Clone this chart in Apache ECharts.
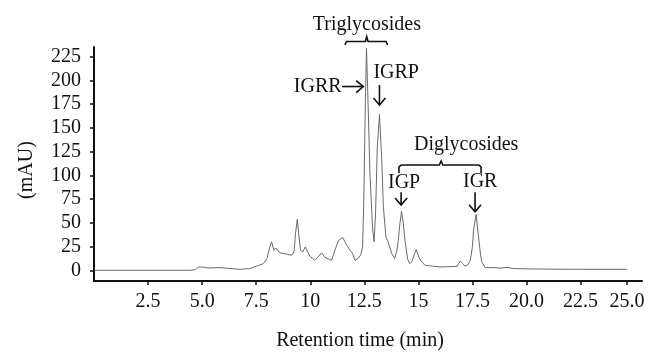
<!DOCTYPE html>
<html>
<head>
<meta charset="utf-8">
<script src="https://cdn.jsdelivr.net/npm/echarts@6/dist/echarts.min.js"></script>
<style>
html, body { margin: 0; padding: 0; background: #fff; }
#chart-container { width: 656px; height: 360px; }
</style>
</head>
<body>
<div id="chart-container"></div>
<script>
// chromatogram (min, mAU)
var retentionTime = [0, 4.5, 4.7, 4.85, 5.1, 5.28, 5.82, 6.28, 6.75, 7.2, 7.5, 7.83, 8.0, 8.13, 8.21, 8.32, 8.41, 8.6, 8.9, 9.14,
    9.25, 9.32, 9.4, 9.48, 9.55, 9.65, 9.77, 9.98, 10.22, 10.53, 10.68, 10.99, 11.14, 11.3, 11.5, 11.69, 11.84, 11.95, 12.07, 12.2,
    12.33, 12.42, 12.47, 12.55, 12.6, 12.68, 12.76, 12.88, 12.95, 13.02, 13.1, 13.2, 13.3, 13.38, 13.5, 13.6, 13.68, 13.77, 13.9, 14.0,
    14.07, 14.15, 14.22, 14.3, 14.38, 14.5, 14.6, 14.7, 14.82, 14.9, 15.0, 15.1, 15.3, 15.7, 16.0, 16.5, 16.8, 16.93, 17.05, 17.16,
    17.3, 17.4, 17.5, 17.55, 17.67, 17.78, 17.87, 17.93, 18.09, 18.5, 18.8, 19.1, 19.4, 20.2, 21.0, 22.5, 24.65];
var absorbance = [0, 0, 0.8, 3.5, 3.2, 2.4, 2.8, 1.8, 1, 1.8, 4.2, 7, 12.3, 24.6, 30, 21, 23.5, 18.3, 17, 15.8,
    19.3, 39, 53.5, 35, 21, 19.3, 24.6, 14.8, 10.5, 18.3, 13.4, 10.5, 21, 31, 34.5, 26.4, 21, 18, 10.5, 12.3,
    16, 24.6, 67, 180, 234, 170, 102, 45, 30, 60, 130, 164, 120, 67, 35, 30, 24, 17.6, 12.3, 20,
    31.6, 50, 62, 50, 31.6, 12, 7, 9, 17, 21.8, 15, 10.5, 5.3, 4.2, 3.5, 3.8, 4.2, 9.8, 7, 4.2,
    6, 10.5, 25, 42, 59, 35, 17, 8.8, 2.8, 2.8, 2.2, 3, 1.8, 1.4, 1.2, 1, 1];

var xTickValues = [2.5, 5, 7.5, 10, 12.5, 15, 17.5, 20, 22.5, 24.65];
var xTickLabels = ['2.5', '5.0', '7.5', '10', '12.5', '15', '17.5', '20.0', '22.5', '25.0'];
var yTickValues = [0, 25, 50, 75, 100, 125, 150, 175, 200, 225];

var serif = '"Liberation Serif", "DejaVu Serif", serif';
var ink = '#111';

var myChart = echarts.init(document.getElementById('chart-container'));

var points = [];
for (var i = 0; i < retentionTime.length; i++) {
    points.push([retentionTime[i], absorbance[i]]);
}

var xLabel = function (v) {
    for (var k = 0; k < xTickValues.length; k++) {
        if (Math.abs(xTickValues[k] - v) < 1e-6) return xTickLabels[k];
    }
    return '';
};

var option = {
    animation: false,
    backgroundColor: '#fff',
    grid: { left: 94, right: 14, top: 47, bottom: 79 },
    xAxis: {
        type: 'value',
        min: 0,
        max: 25.34,
        name: 'Retention time (min)',
        nameLocation: 'middle',
        nameGap: 50,
        nameTextStyle: { color: ink, fontFamily: serif, fontSize: 20, padding: [0, 16, 0, 0] },
        axisLine: { show: true, onZero: false, lineStyle: { color: ink, width: 2 } },
        axisTick: { show: true, length: 4, customValues: xTickValues, lineStyle: { color: ink, width: 1.5 } },
        axisLabel: { customValues: xTickValues, formatter: xLabel, margin: 11, color: ink, fontFamily: serif, fontSize: 20 },
        splitLine: { show: false }
    },
    yAxis: {
        type: 'value',
        min: -11.3,
        max: 235,
        name: '(mAU)',
        nameLocation: 'middle',
        nameRotate: 90,
        nameGap: 57,
        nameTextStyle: { color: ink, fontFamily: serif, fontSize: 20, padding: [0, 12, 0, 0] },
        axisLine: { show: true, lineStyle: { color: ink, width: 2 } },
        axisTick: { show: true, length: 4, customValues: yTickValues, lineStyle: { color: ink, width: 1.5 } },
        axisLabel: { customValues: yTickValues, margin: 13, color: ink, fontFamily: serif, fontSize: 20 },
        splitLine: { show: false }
    },
    series: [{
        type: 'line',
        data: points,
        showSymbol: false,
        lineStyle: { color: '#6a6a6a', width: 1 }
    }]
};
myChart.setOption(option);

// annotations, placed in data units
var px = function (x, y) {
    return myChart.convertToPixel({ gridIndex: 0 }, [x, y]);
};

var textEl = function (str, x, y, align) {
    var p = px(x, y);
    return {
        type: 'text',
        style: {
            text: str, x: p[0], y: p[1], fill: ink,
            font: '20px ' + serif,
            textAlign: align || 'center', textVerticalAlign: 'middle'
        }
    };
};

var lineEl = function (pts) {
    var shape = [];
    for (var k = 0; k < pts.length; k++) shape.push(px(pts[k][0], pts[k][1]));
    return {
        type: 'polyline',
        shape: { points: shape },
        style: { stroke: ink, lineWidth: 1.6, fill: null }
    };
};

// arrow from (x1,y1) to tip (x2,y2), open head drawn in pixels
var arrowEl = function (x1, y1, x2, y2) {
    var a = px(x1, y1), b = px(x2, y2);
    var dx = b[0] - a[0], dy = b[1] - a[1];
    var len = Math.sqrt(dx * dx + dy * dy);
    var ux = dx / len, uy = dy / len;
    var h = 7, w = 6;
    var l = [b[0] - ux * h - uy * w, b[1] - uy * h + ux * w];
    var r = [b[0] - ux * h + uy * w, b[1] - uy * h - ux * w];
    return [{
        type: 'polyline', shape: { points: [a, b] },
        style: { stroke: ink, lineWidth: 1.6, fill: null }
    }, {
        type: 'polyline', shape: { points: [l, b, r] },
        style: { stroke: ink, lineWidth: 1.6, fill: null }
    }];
};

var graphics = [];
graphics.push(textEl('Triglycosides', 12.62, 258.4));
graphics.push(lineEl([[11.6, 237.3], [11.68, 240.8], [12.55, 240.8], [12.61, 246], [12.67, 240.8], [13.5, 240.8], [13.58, 237.3]]));
graphics.push(textEl('IGRR', 11.45, 193.4, 'right'));
graphics = graphics.concat(arrowEl(11.47, 193.4, 12.45, 193.4));
graphics.push(textEl('IGRP', 12.92, 207.5, 'left'));
graphics = graphics.concat(arrowEl(13.2, 195, 13.2, 174));

graphics.push(textEl('Diglycosides', 17.21, 131.9));
graphics.push(lineEl([[14.1, 102], [14.1, 108.5], [14.2, 110.8], [15.97, 110.8], [16.05, 115], [16.13, 110.8], [17.8, 110.8], [17.9, 108.5], [17.9, 102]]));
graphics.push(textEl('IGP', 14.34, 92.5));
graphics = graphics.concat(arrowEl(14.2, 82, 14.2, 68.6));
graphics.push(textEl('IGR', 17.86, 92.8));
graphics = graphics.concat(arrowEl(17.62, 82, 17.62, 61.5));

myChart.setOption({ graphic: graphics });
</script>
</body>
</html>
